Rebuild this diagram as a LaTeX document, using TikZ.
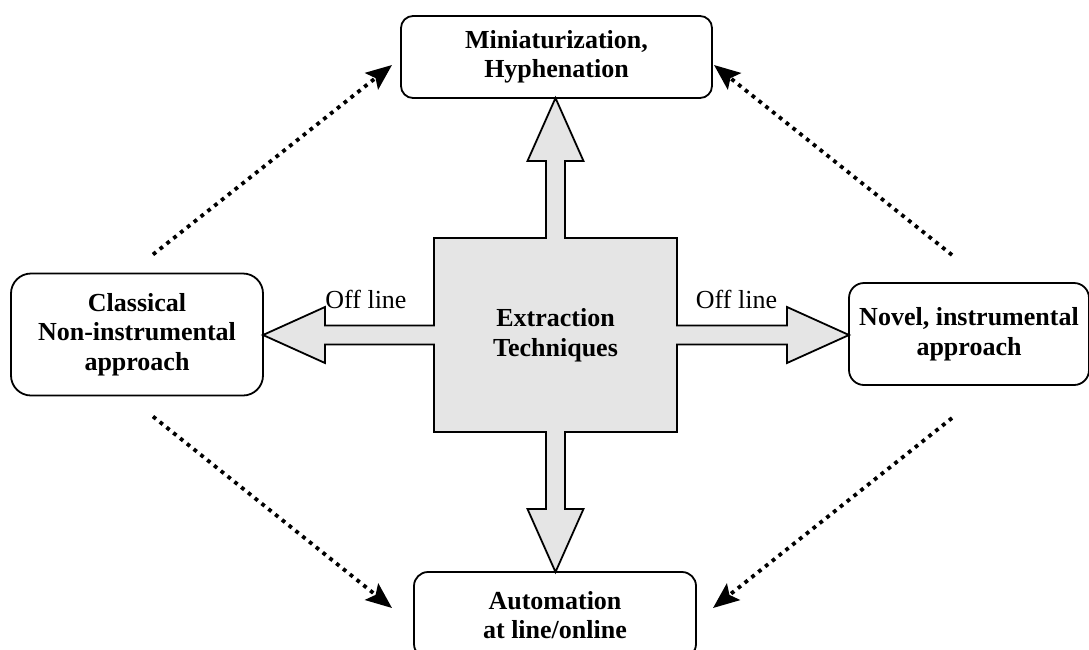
\documentclass[tikz,border=0pt]{standalone}
\usepackage{fontspec}
\setmainfont{Liberation Serif}
\usetikzlibrary{arrows.meta,calc}

\begin{document}
\begin{tikzpicture}[x=1pt, y=-1pt,
    every node/.style={align=center, inner sep=0, outer sep=0, font=\fontsize{26}{29.5}\selectfont},
    box/.style={draw, line width=1.8pt, rounded corners=12pt, font=\fontsize{26}{29.5}\selectfont\bfseries},
    fat/.style={draw, line width=1.8pt, fill=black!10},
    dots/.style={line width=3.8pt, dash pattern=on 3.8pt off 4.9pt, -{Stealth[length=26pt, width=21pt, inset=5pt]}}
  ]
    \useasboundingbox (0,0) rectangle (1089,649);
    \clip (0,0) rectangle (1089,649);

    \node (core) [minimum width=243pt, minimum height=194pt] at (555.5,335) {};
    \node (top) [box, minimum width=311pt, minimum height=82pt] at (556.5,57) {Miniaturization,\\Hyphenation};
    \node (classic) [box, rounded corners=20pt, minimum width=252pt, minimum height=122pt] at (137,334.5) {Classical\\Non-instrumental\\approach};
    \node (novel) [box, rounded corners=15pt, minimum width=240pt, minimum height=102pt] at (969,334) {Novel, instrumental\\approach};
    \node (auto) [box, rounded corners=14pt, minimum width=282pt, minimum height=86pt] at (555,615) {Automation\\at line/online};

    \draw[fat] (core.north west)
        -- ($(core.north)+(-9.5,0)$) |- ($(core.north |- top.south)+(-28,63)$)
        -- (core.north |- top.south)
        -- ($(core.north |- top.south)+(28,63)$) -| ($(core.north)+(9.5,0)$)
        -- (core.north east)
        -- ($(core.east)+(0,-9.5)$) -| ($(novel.west |- core.east)+(-62,-28)$)
        -- (novel.west |- core.east)
        -- ($(novel.west |- core.east)+(-62,28)$) |- ($(core.east)+(0,9.5)$)
        -- (core.south east)
        -- ($(core.south)+(9.5,0)$) |- ($(core.south |- auto.north)+(28,-63)$)
        -- (core.south |- auto.north)
        -- ($(core.south |- auto.north)+(-28,-63)$) -| ($(core.south)+(-9.5,0)$)
        -- (core.south west)
        -- ($(core.west)+(0,9.5)$) -| ($(classic.east |- core.west)+(62,28)$)
        -- (classic.east |- core.west)
        -- ($(classic.east |- core.west)+(62,-28)$) |- ($(core.west)+(0,-9.5)$)
        -- cycle;
    \node (extract) [font=\fontsize{26}{29.5}\selectfont\bfseries] at (core.center) {Extraction\\Techniques};

    \node (offleft) [anchor=base] at (366,308) {Off line};
    \node (offright) [anchor=base] at (736.5,308) {Off line};

    \draw[dots] ($(classic.north)+(16,-19)$) -- ($(top.west)+(-9,8)$);
    \draw[dots] ($(novel.north)+(-17,-28)$) -- ($(top.east)+(2,8)$);
    \draw[dots] ($(classic.south)+(16,21)$) -- ($(auto.west)+(-22,-7)$);
    \draw[dots] ($(novel.south)+(-17,33)$) -- ($(auto.east)+(17,-7)$);
  \end{tikzpicture}
\end{document}
